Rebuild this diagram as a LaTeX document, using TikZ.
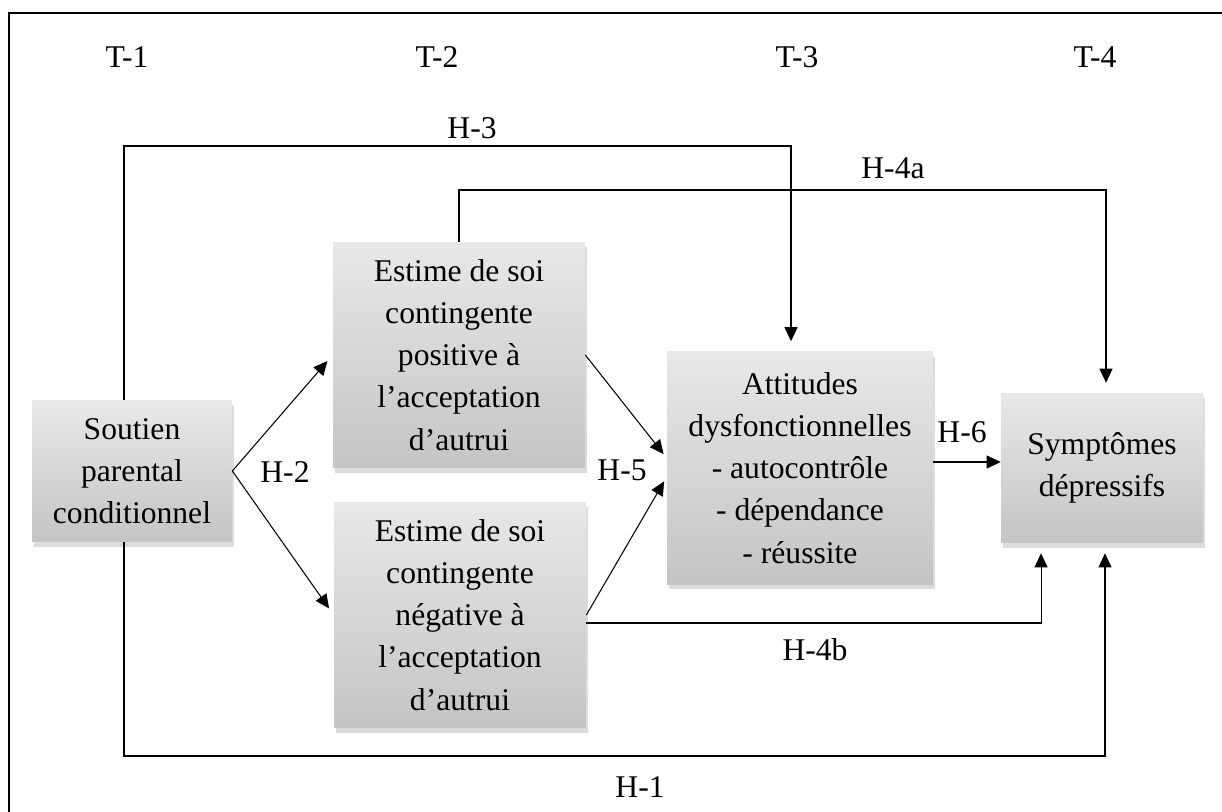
\documentclass[tikz,border=0pt]{standalone}
\usepackage{fontspec}
\setmainfont{Liberation Serif}
\usetikzlibrary{arrows.meta,shadows,calc}

\begin{document}
\begin{tikzpicture}[x=0.02cm,y=-0.02cm,
    every node/.style={font=\fontsize{18}{24}\selectfont},
    box/.style={top color=black!9,bottom color=black!23,align=center,inner sep=0pt,
      drop shadow={shadow xshift=0.04cm,shadow yshift=-0.1cm,opacity=0.28}},
    arr/.style={-{Triangle[length=0.28cm,width=0.26cm]},line width=0.6pt},
    lbl/.style={inner sep=0pt}]
  \useasboundingbox (0,0) rectangle (1222,811);

  % Cadre
  \draw[line width=0.9pt] (9,830) -- (9,13) -- (1240,13);

  % Temps
  \node[lbl] (t1) at (127,57) {T-1};
  \node[lbl] (t2) at (437,57) {T-2};
  \node[lbl] (t3) at (797,57) {T-3};
  \node[lbl] (t4) at (1095,57) {T-4};

  % Variables
  \node[box,minimum width=4cm,minimum height=2.84cm] (soutien) at (132,471)
    {Soutien\\parental\\conditionnel};
  \node[box,minimum width=5.04cm,minimum height=4.52cm] (estpos) at (459,355)
    {Estime de soi\\contingente\\positive à\\l’acceptation\\d’autrui};
  \node[box,minimum width=5.04cm,minimum height=4.52cm] (estneg) at (460,615)
    {Estime de soi\\contingente\\négative à\\l’acceptation\\d’autrui};
  \node[box,minimum width=5.32cm,minimum height=4.66cm] (attitudes) at (800,468)
    {Attitudes\\dysfonctionnelles\\- autocontrôle\\- dépendance\\- réussite};
  \node[box,minimum width=4.04cm,minimum height=3cm] (sympt) at (1102,468)
    {Symptômes\\dépressifs};

  % Coudes
  \coordinate (c3) at (791,146);
  \coordinate (c4a) at (1106,190);
  \coordinate (c1) at (1105,756);

  % Liens
  \draw[arr,shorten >=0.2cm] ([xshift=-0.16cm]soutien.north) |- (c3) -- (c3 |- attitudes.north);
  \draw[arr,shorten >=0.2cm] (estpos.north) |- (c4a) -- (c4a |- sympt.north);
  \draw[arr,shorten >=0.16cm] (soutien.east) -- (estpos.west);
  \draw[arr,shorten >=0.16cm] (soutien.east) -- (estneg.west);
  \draw[arr,shorten >=0.1cm] (estpos.east) -- ([yshift=0.2cm]attitudes.west);
  \draw[arr,shorten >=0.1cm] (estneg.east) -- ([yshift=-0.18cm]attitudes.west);
  \draw[arr] ([yshift=0.12cm]attitudes.east) -- ([yshift=0.12cm]sympt.west);
  \draw[arr,shorten >=0.2cm] ([yshift=-0.16cm]estneg.east) -| ([xshift=-1.22cm]sympt.south);
  \draw[arr,shorten >=0.2cm] ([xshift=-0.16cm]soutien.south) |- (c1) -- (c1 |- sympt.south);

  % Hypotheses
  \node[lbl] (h3) at (472,128) {H-3};
  \node[lbl] (h4a) at (893,168) {H-4a};
  \node[lbl] (h2) at (285,472) {H-2};
  \node[lbl] (h5) at (622,470) {H-5};
  \node[lbl] (h6) at (962,432) {H-6};
  \node[lbl] (h4b) at (815,650) {H-4b};
  \node[lbl] (h1) at (640,787) {H-1};
\end{tikzpicture}
\end{document}
